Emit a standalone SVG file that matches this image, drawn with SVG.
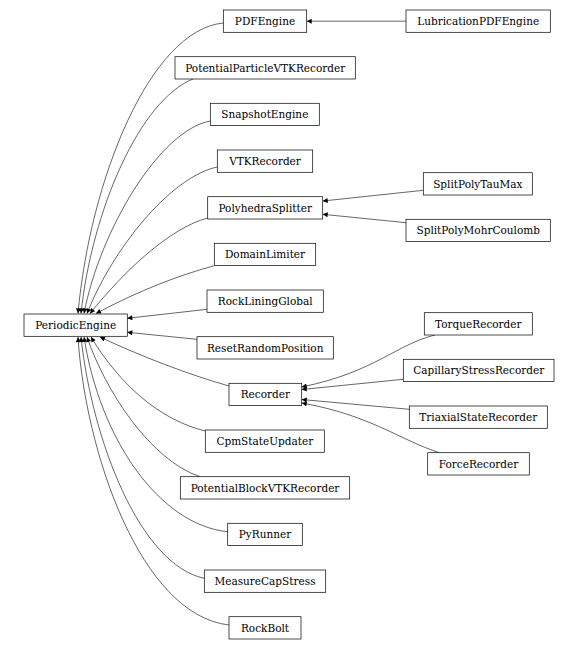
<svg xmlns="http://www.w3.org/2000/svg" width="578" height="650" viewBox="0 0 578 650">
<defs>
<marker id="ah" markerUnits="userSpaceOnUse" viewBox="0 0 10 10" markerWidth="7.5" markerHeight="5" refX="10" refY="5" orient="auto">
<path d="M0,0 L10,5 L0,10 z" fill="#000"/>
</marker>
</defs>
<style>
.n rect{fill:#fff;stroke:#000;stroke-width:0.7}
.n text{font-family:"DejaVu Serif","Liberation Serif",serif;font-size:10.5px;text-anchor:middle;fill:#000}
#edges path{fill:none;stroke:#000;stroke-width:0.6;marker-end:url(#ah)}
</style>
<rect width="578" height="650" fill="#fff"/>
<g id="edges">
<path d="M406,21.2 L306.7,21.2"/>
<path d="M423.3,190.3 L322.7,201"/>
<path d="M406,222.7 L322.7,214.3"/>
<path d="M435,335 C395,345 375,372 301.7,387"/>
<path d="M403.3,379.3 L301.7,389.5"/>
<path d="M409.3,409.3 L301.7,399.5"/>
<path d="M439.3,452.7 C400,440 370,415 301.7,403"/>
<path d="M223.3,23 C150,30 90,180 78,313.5"/>
<path d="M193,79 C140,100 92,210 81,313.5"/>
<path d="M210.3,121 C160,130 100,230 84,313.5"/>
<path d="M217.3,167 C170,177 112,250 87,313.5"/>
<path d="M207.7,218 C170,228 125,270 90,313.5"/>
<path d="M214.3,265.7 C180,275 140,290 96,313.5"/>
<path d="M207,309.3 L127.3,318.3"/>
<path d="M197,339.3 L127.3,332.3"/>
<path d="M229,386 C190,375 140,356 100,337"/>
<path d="M205.3,431 C160,420 120,385 91,337"/>
<path d="M200,476.7 C150,460 105,390 87,337"/>
<path d="M227.7,531.7 C160,525 100,440 84,337"/>
<path d="M204.3,578.3 C140,565 92,440 81,337"/>
<path d="M229,625 C140,615 85,450 78,337"/>
</g>
<g id="PDFEngine" class="n"><rect x="223.3" y="10" width="83.4" height="22.3"/><text x="265" y="24.9">PDFEngine</text></g>
<g id="LubricationPDFEngine" class="n"><rect x="406" y="10" width="144.3" height="22.3"/><text x="478.2" y="24.9">LubricationPDFEngine</text></g>
<g id="PotentialParticleVTKRecorder" class="n"><rect x="175" y="56.7" width="180.3" height="22.3"/><text x="265.2" y="71.5">PotentialParticleVTKRecorder</text></g>
<g id="SnapshotEngine" class="n"><rect x="210.3" y="103.3" width="109" height="22.3"/><text x="264.8" y="118.2">SnapshotEngine</text></g>
<g id="VTKRecorder" class="n"><rect x="217.3" y="150" width="95.4" height="22.3"/><text x="265" y="164.9">VTKRecorder</text></g>
<g id="PolyhedraSplitter" class="n"><rect x="207.7" y="196.7" width="115" height="22.3"/><text x="265.2" y="211.5">PolyhedraSplitter</text></g>
<g id="SplitPolyTauMax" class="n"><rect x="423.3" y="172.7" width="109" height="22.3"/><text x="477.8" y="187.5">SplitPolyTauMax</text></g>
<g id="SplitPolyMohrCoulomb" class="n"><rect x="406" y="219.3" width="144.3" height="22.3"/><text x="478.2" y="234.2">SplitPolyMohrCoulomb</text></g>
<g id="DomainLimiter" class="n"><rect x="214.3" y="243.3" width="101.4" height="22.3"/><text x="265" y="258.2">DomainLimiter</text></g>
<g id="RockLiningGlobal" class="n"><rect x="207" y="290" width="116.3" height="22.3"/><text x="265.2" y="304.9">RockLiningGlobal</text></g>
<g id="PeriodicEngine" class="n"><rect x="24" y="314" width="103.3" height="22.3"/><text x="75.7" y="328.9">PeriodicEngine</text></g>
<g id="ResetRandomPosition" class="n"><rect x="197" y="336.7" width="136.3" height="22.3"/><text x="265.2" y="351.5">ResetRandomPosition</text></g>
<g id="Recorder" class="n"><rect x="229" y="383.3" width="72.7" height="22.3"/><text x="265.3" y="398.2">Recorder</text></g>
<g id="TorqueRecorder" class="n"><rect x="424.3" y="312.7" width="108" height="22.3"/><text x="478.3" y="327.5">TorqueRecorder</text></g>
<g id="CapillaryStressRecorder" class="n"><rect x="403.3" y="359.3" width="150.7" height="22.3"/><text x="478.7" y="374.2">CapillaryStressRecorder</text></g>
<g id="TriaxialStateRecorder" class="n"><rect x="409.3" y="406" width="138" height="22.3"/><text x="478.3" y="420.9">TriaxialStateRecorder</text></g>
<g id="ForceRecorder" class="n"><rect x="427.7" y="452.7" width="101.6" height="22.3"/><text x="478.5" y="467.5">ForceRecorder</text></g>
<g id="CpmStateUpdater" class="n"><rect x="205.3" y="430" width="119" height="22.3"/><text x="264.8" y="444.9">CpmStateUpdater</text></g>
<g id="PotentialBlockVTKRecorder" class="n"><rect x="180.3" y="476.7" width="169.4" height="22.3"/><text x="265" y="491.5">PotentialBlockVTKRecorder</text></g>
<g id="PyRunner" class="n"><rect x="227.7" y="523.3" width="74.6" height="22.3"/><text x="265" y="538.2">PyRunner</text></g>
<g id="MeasureCapStress" class="n"><rect x="204.3" y="570" width="121.4" height="22.3"/><text x="265" y="584.9">MeasureCapStress</text></g>
<g id="RockBolt" class="n"><rect x="229" y="616.7" width="72" height="22.3"/><text x="265" y="631.5">RockBolt</text></g>
</svg>
